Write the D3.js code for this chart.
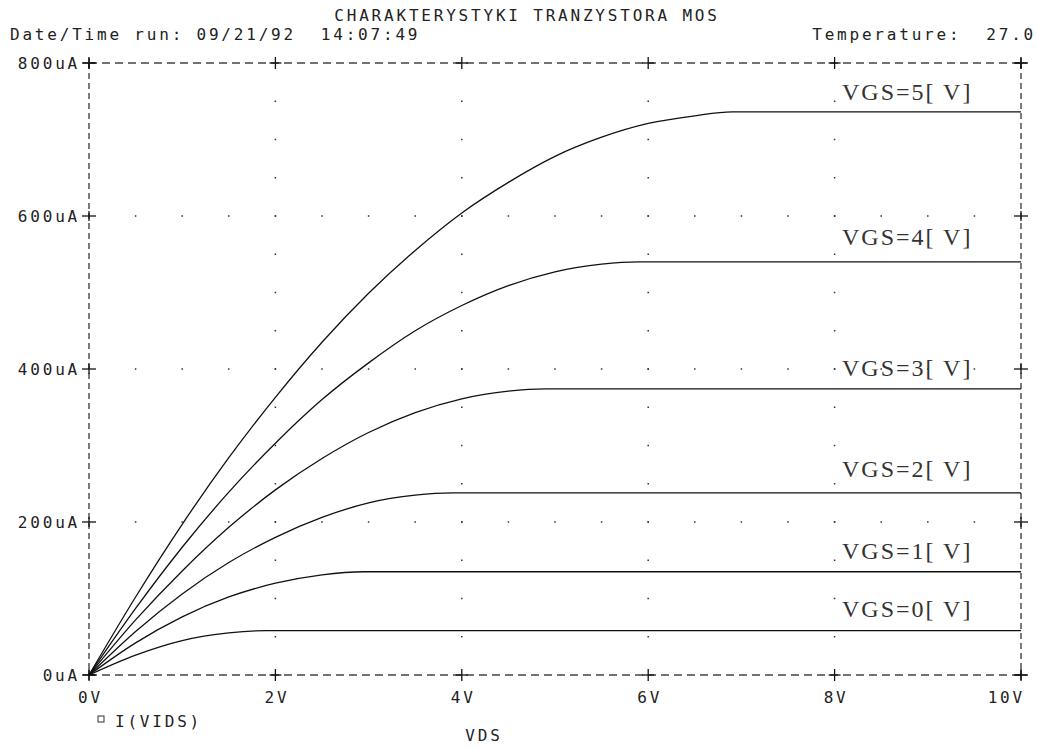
<!DOCTYPE html>
<html>
<head>
<meta charset="utf-8">
<script src="https://cdn.jsdelivr.net/npm/d3@7"></script>
<style>
  html, body { margin: 0; padding: 0; background: #fff; }
  svg { display: block; }
  text { white-space: pre; }
  .plt { font-family: "DejaVu Sans Mono", monospace; font-size: 16px; fill: #222; letter-spacing: 2.8px; }
  .lbl { font-family: "Liberation Serif", "DejaVu Serif", serif; font-size: 24px; fill: #333; letter-spacing: 2px; }
</style>
</head>
<body>
<script>
// ---- data ----
const titleText = "CHARAKTERYSTYKI TRANZYSTORA MOS";
const dateText = "Date/Time run: 09/21/92  14:07:49";
const tempText = "Temperature:  27.0";
const xAxisTitle = "VDS";
const legendText = "I(VIDS)";

const xTicks = [0, 2, 4, 6, 8, 10];
const xTickLabels = ["0V", "2V", "4V", "6V", "8V", "10V"];
const yTicks = [0, 200, 400, 600, 800];
const yTickLabels = ["0uA", "200uA", "400uA", "600uA", "800uA"];

const seriesNames = ["VGS=0[ V]", "VGS=1[ V]", "VGS=2[ V]", "VGS=3[ V]", "VGS=4[ V]", "VGS=5[ V]"];
const vds0 = [0, 0.5, 1, 1.5, 1.9, 10];
const id0  = [0, 26, 45, 55, 58, 58];
const vds1 = [0, 0.5, 1, 1.5, 2, 2.5, 2.95, 10];
const id1  = [0, 42, 76, 102, 120, 131, 135, 135];
const vds2 = [0, 0.5, 1, 1.5, 2, 2.5, 3, 3.5, 3.9, 10];
const id2  = [0, 57, 106, 147, 180, 206, 225, 235, 238, 238];
const vds3 = [0, 0.5, 1, 1.5, 2, 2.5, 3, 3.5, 4, 4.5, 4.9, 10];
const id3  = [0, 72, 136, 193, 242, 283, 317, 343, 361, 371, 374, 374];
const vds4 = [0, 0.5, 1, 1.5, 2, 2.5, 3, 3.5, 4, 4.5, 5, 5.5, 5.9, 10];
const id4  = [0, 87, 167, 239, 303, 360, 408, 450, 483, 509, 527, 537, 540, 540];
const vds5 = [0, 0.5, 1, 1.5, 2, 2.5, 3, 3.5, 4, 4.5, 5, 5.5, 6, 6.5, 6.9, 10];
const id5  = [0, 102, 197, 284, 363, 435, 499, 555, 604, 644, 678, 703, 721, 731, 736, 736];

const seriesX = [vds0, vds1, vds2, vds3, vds4, vds5];
const seriesY = [id0, id1, id2, id3, id4, id5];

// ---- layout ----
const W = 1037, H = 749;
const pL = 89, pR = 1021, pT = 63, pB = 675;

const x = d3.scaleLinear().domain([0, 10]).range([pL, pR]);
const y = d3.scaleLinear().domain([0, 800]).range([pB, pT]);

const svg = d3.select("body").append("svg").attr("width", W).attr("height", H);

// dotted grid
const gridG = svg.append("g");
const hDots = [];
[200, 400, 600].forEach(v => {
  for (let t = 0.5; t < 10; t += 0.5) hDots.push([t, v]);
});
[2, 4, 6, 8].forEach(t => {
  for (let v = 50; v < 800; v += 50) hDots.push([t, v]);
});
gridG.selectAll("rect").data(hDots).join("rect")
  .attr("x", d => x(d[0]) - 0.75)
  .attr("y", d => y(d[1]) - 0.75)
  .attr("width", 1.5).attr("height", 1.5)
  .attr("fill", "#333");

// dashed frame
const frame = svg.append("g").attr("stroke", "#444").attr("stroke-width", 1.4).attr("fill", "none");
frame.append("line").attr("x1", pL).attr("x2", pR).attr("y1", pT).attr("y2", pT).attr("stroke-dasharray", "8,5");
frame.append("line").attr("x1", pL).attr("x2", pR).attr("y1", pB).attr("y2", pB).attr("stroke-dasharray", "8,5");
frame.append("line").attr("x1", pL).attr("x2", pL).attr("y1", pT).attr("y2", pB).attr("stroke-dasharray", "6,4");
frame.append("line").attr("x1", pR).attr("x2", pR).attr("y1", pT).attr("y2", pB).attr("stroke-dasharray", "6,4");

// tick crosses
const cross = svg.append("g").attr("stroke", "#111").attr("stroke-width", 1.3);
function plus(cx, cy, a, b) {
  cross.append("line").attr("x1", cx - a).attr("x2", cx + a).attr("y1", cy).attr("y2", cy);
  cross.append("line").attr("x1", cx).attr("x2", cx).attr("y1", cy - b).attr("y2", cy + b);
}
xTicks.forEach(t => { plus(x(t), pT, 6, 6); plus(x(t), pB, 6, 6); });
yTicks.forEach(v => { plus(pL, y(v), 7, 5); plus(pR, y(v), 7, 5); });

// axis labels
svg.append("g").selectAll("text").data(yTicks).join("text")
  .attr("class", "plt")
  .attr("x", pL - 9).attr("y", d => y(d) + 6)
  .attr("text-anchor", "end")
  .text((d, i) => yTickLabels[i]);

svg.append("g").selectAll("text").data(xTicks).join("text")
  .attr("class", "plt")
  .attr("x", (d, i) => i === xTicks.length - 1 ? x(d) + 4 : x(d) + 1.5)
  .attr("y", pB + 28)
  .attr("text-anchor", (d, i) => i === xTicks.length - 1 ? "end" : "middle")
  .text((d, i) => xTickLabels[i]);

// curves
const line = d3.line().x(d => x(d[0])).y(d => y(d[1])).curve(d3.curveMonotoneX);
const curves = seriesX.map((xs, i) => xs.map((v, j) => [v, seriesY[i][j]]));
svg.append("g").selectAll("path").data(curves).join("path")
  .attr("d", line)
  .attr("fill", "none")
  .attr("stroke", "#111")
  .attr("stroke-width", 1.3);

// curve labels
const labelOffsets = [14, 13, 16, 13, 17, 12];
svg.append("g").selectAll("text").data(curves).join("text")
  .attr("class", "lbl")
  .attr("x", 842)
  .attr("y", (d, i) => y(d[d.length - 1][1]) - labelOffsets[i])
  .text((d, i) => seriesNames[i]);

// titles
svg.append("text").attr("class", "plt").attr("x", 527).attr("y", 21).attr("text-anchor", "middle").text(titleText);
svg.append("text").attr("class", "plt").attr("x", 10).attr("y", 40).text(dateText);
svg.append("text").attr("class", "plt").attr("x", 1036).attr("y", 40).attr("text-anchor", "end").text(tempText);
svg.append("text").attr("class", "plt").attr("x", 484).attr("y", 741).attr("text-anchor", "middle").text(xAxisTitle);

// legend
svg.append("rect").attr("x", 98).attr("y", 716).attr("width", 6).attr("height", 6)
  .attr("fill", "none").attr("stroke", "#333").attr("stroke-width", 1);
svg.append("text").attr("class", "plt").attr("x", 115).attr("y", 727).text(legendText);
</script>
</body>
</html>
